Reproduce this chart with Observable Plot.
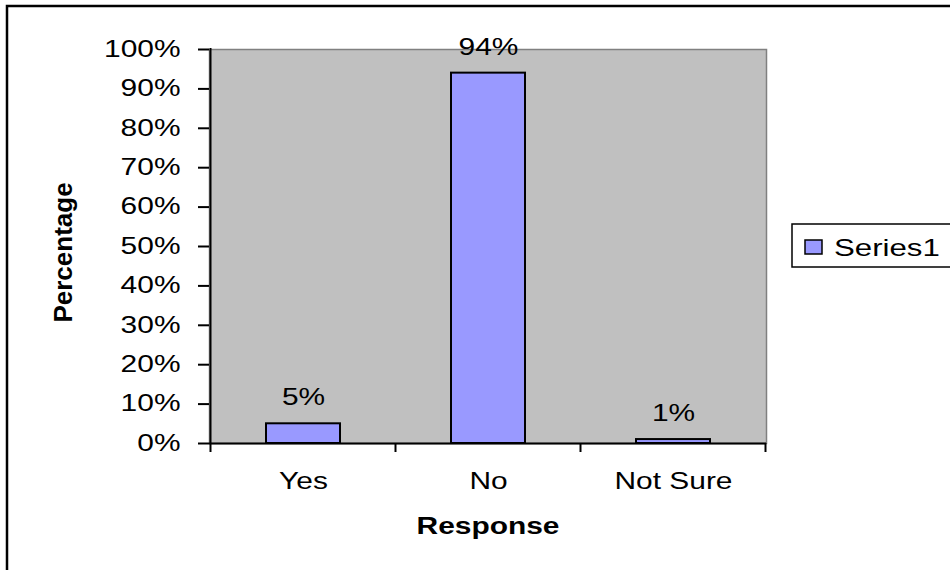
<!DOCTYPE html>
<html><head><meta charset="utf-8">
<script src="https://cdn.jsdelivr.net/npm/d3@7"></script>
<script src="https://cdn.jsdelivr.net/npm/@observablehq/plot@0.6"></script>
<style>
body{margin:0;background:#fff}
</style>
</head><body><div id="chart"></div>
<script>
const categories = ["Yes", "No", "Not Sure"];
const values = [5, 94, 1];
const yTicks = [0, 10, 20, 30, 40, 50, 60, 70, 80, 90, 100];
const seriesName = "Series1";
const xTitle = "Response";
const yTitle = "Percentage";

const data = categories.map((c, i) => ({category: c, value: values[i]}));
const font = '"Liberation Sans", Arial, Helvetica, sans-serif';

const chart = Plot.plot({
  width: 950, height: 570,
  marginLeft: 209, marginRight: 184, marginTop: 49, marginBottom: 127,
  style: {fontFamily: font, fontSize: "23px", color: "#000", background: "#fff", overflow: "visible"},
  x: {domain: categories, paddingInner: 0.6, paddingOuter: 0.3},
  y: {domain: [0, 100]},
  marks: [
    Plot.frame({fill: "#c0c0c0", stroke: "#808080", strokeWidth: 1.5}),
    Plot.axisY({ticks: yTicks, tickFormat: d => d + "%", tickSize: 11, tickPadding: 18, strokeWidth: 2, fontSize: 23, label: null}),
    Plot.axisX({tickSize: 0, tickPadding: 29, label: null, fontSize: 23}),
    Plot.barY(data, {x: "category", y: "value", fill: "#9999ff", stroke: "#000", strokeWidth: 2}),
    Plot.ruleY([0], {stroke: "#000", strokeWidth: 2}),
    Plot.text(data, {x: "category", y: "value", text: d => d.value + "%", dy: -26, fontSize: 23}),
    Plot.text([xTitle], {text: d => d, frameAnchor: "bottom", dy: 90, fontWeight: "bold", fontSize: 23}),
    Plot.text([yTitle], {text: d => d, frameAnchor: "left", textAnchor: "middle", dx: -146, dy: 6, rotate: -90, fontWeight: "bold", fontSize: 26, className: "ytitle"})
  ]
});

document.getElementById("chart").appendChild(chart);

// decorations using the chart's own scales
const svg = d3.select(chart);
const sx = chart.scale("x");
const sy = chart.scale("y");
const y0 = sy.apply(0), y100 = sy.apply(100);
const gap = (sx.step - sx.bandwidth) / 2;
const xLeft = sx.apply(categories[0]) - gap;
const bounds = categories.map(c => sx.apply(c) - gap);
bounds.push(sx.apply(categories[categories.length - 1]) + sx.bandwidth + gap);

// left axis line
svg.append("line").attr("x1", xLeft).attr("x2", xLeft).attr("y1", y100 - 1).attr("y2", y0 + 1)
  .attr("stroke", "#000").attr("stroke-width", 2);
// category boundary ticks
bounds.forEach(b => {
  svg.append("line").attr("x1", b).attr("x2", b).attr("y1", y0).attr("y2", y0 + 9)
    .attr("stroke", "#000").attr("stroke-width", 2);
});

// outer chart border (extends past the right and bottom edges)
svg.append("rect").attr("x", 7).attr("y", 6).attr("width", 980).attr("height", 600)
  .attr("fill", "none").attr("stroke", "#000").attr("stroke-width", 2.5);

// legend
const lg = svg.append("g");
lg.append("rect").attr("x", 792).attr("y", 224).attr("width", 200).attr("height", 43)
  .attr("fill", "#fff").attr("stroke", "#000").attr("stroke-width", 1.5);
lg.append("rect").attr("x", 805).attr("y", 240).attr("width", 17).attr("height", 14)
  .attr("fill", "#9999ff").attr("stroke", "#000").attr("stroke-width", 1.5);
lg.append("text").attr("x", 834).attr("y", 256).attr("font-family", font).attr("font-size", 24)
  .attr("text-anchor", "start").attr("fill", "#000").text(seriesName);

// the reference text is drawn horizontally widened: stretch glyphs
chart.querySelectorAll("text").forEach(t => {
  if (t.closest(".ytitle")) return;
  const len = t.getComputedTextLength();
  if (len > 0) {
    t.setAttribute("textLength", (len * 1.3).toFixed(1));
    t.setAttribute("lengthAdjust", "spacingAndGlyphs");
  }
});
</script>
</body></html>
